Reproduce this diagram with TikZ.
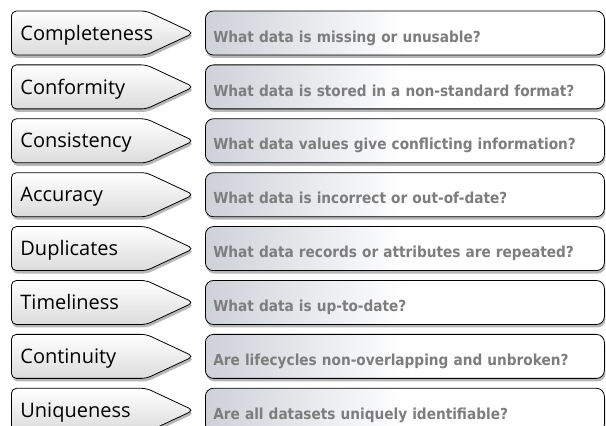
\documentclass[tikz,border=0pt]{standalone}
\usepackage{fontspec}
\setmainfont{Open Sans}
\newfontfamily\qfont{DejaVu Sans Condensed}
\usepackage{tikz}
\usetikzlibrary{shapes.symbols}
\usetikzlibrary{shadows}

\definecolor{qshade}{RGB}{206,209,216}
\definecolor{qtext}{RGB}{125,125,125}

\tikzset{
  tag/.style={signal, signal to=east, signal pointer angle=50, draw=black, line width=0.8pt,
    rounded corners=5pt, top color=white, bottom color=black!14, anchor=west,
    minimum height=44pt, text width=117pt, inner xsep=9pt, align=left,
    text height=17pt, text depth=2.6pt,
    font=\fontsize{20}{22}\selectfont,
    drop shadow={shadow xshift=1pt, shadow yshift=-3pt, fill=black!40, opacity=0.7}},
  question/.style={rectangle, draw=black, line width=0.8pt, rounded corners=8pt,
    left color=qshade, right color=white, middle color=white, anchor=west,
    minimum height=44pt, text width=383pt, inner xsep=8pt, align=left,
    text height=20pt, text depth=1.6pt,
    text=qtext, font=\qfont\bfseries\fontsize{15.2}{17}\selectfont,
    drop shadow={shadow xshift=1pt, shadow yshift=-3pt, fill=black!40, opacity=0.7}}
}

\begin{document}
\begin{tikzpicture}[x=1pt, y=1pt]
                \useasboundingbox (0,0) rectangle (606,426);
                \clip (0,0) rectangle (606,426);

                % Completeness
                \node[tag] (tag1) at (11, 393.0) {Completeness};
                \node[question] (q1) at (205, 393.0) {What data is missing or unusable?};

                % Conformity
                \node[tag] (tag2) at (11, 339.1) {Conformity};
                \node[question] (q2) at (205, 339.1) {What data is stored in a non-standard format?};

                % Consistency
                \node[tag] (tag3) at (11, 285.2) {Consistency};
                \node[question] (q3) at (205, 285.2) {What data values give conflicting information?};

                % Accuracy
                \node[tag] (tag4) at (11, 231.3) {Accuracy};
                \node[question] (q4) at (205, 231.3) {What data is incorrect or out-of-date?};

                % Duplicates
                \node[tag] (tag5) at (11, 177.4) {Duplicates};
                \node[question] (q5) at (205, 177.4) {What data records or attributes are repeated?};

                % Timeliness
                \node[tag] (tag6) at (11, 123.5) {Timeliness};
                \node[question] (q6) at (205, 123.5) {What data is up-to-date?};

                % Continuity
                \node[tag] (tag7) at (11, 69.6) {Continuity};
                \node[question] (q7) at (205, 69.6) {Are lifecycles non-overlapping and unbroken?};

                % Uniqueness
                \node[tag] (tag8) at (11, 15.7) {Uniqueness};
                \node[question] (q8) at (205, 15.7) {Are all datasets uniquely identifiable?};
            \end{tikzpicture}
\end{document}
